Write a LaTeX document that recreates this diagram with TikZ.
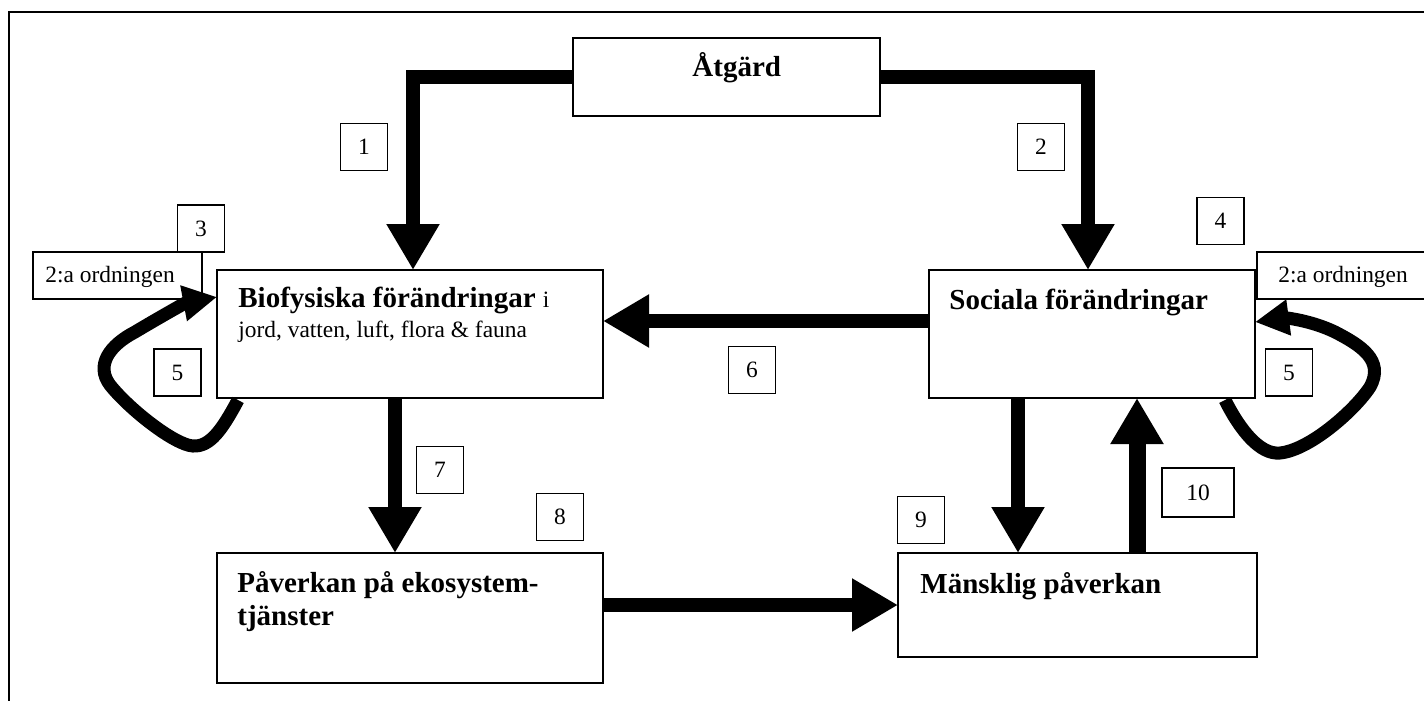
\documentclass[tikz,border=0pt]{standalone}
\usepackage{fontspec}
\setmainfont{Liberation Serif}
\usetikzlibrary{arrows.meta}
\begin{document}
\begin{tikzpicture}[x=0.5pt,y=-0.5pt,
  box/.style={draw, line width=1pt, rectangle, inner sep=0pt, outer sep=0pt},
  numbox/.style={draw, line width=0.75pt, inner sep=0pt, outer sep=0pt, minimum width=23.5pt, minimum height=23.5pt, font=\fontsize{11.7}{14}\selectfont},
  boldtxt/.style={anchor=base west, inner sep=0pt, font=\fontsize{14.5}{17}\selectfont\bfseries},
  regtxt/.style={anchor=base west, inner sep=0pt, font=\fontsize{11.7}{14}\selectfont},
  flow/.style={line width=7pt, line join=miter, -{Triangle[width=25pt,length=23pt]}},
  loopflow/.style={line width=6.5pt, -{Triangle[width=17pt,length=17pt]}}
]
\useasboundingbox (0,0) rectangle (1424,701);
% outer frame
\draw[line width=1pt] (9,701) -- (9,12) -- (1424,12);

% main boxes
\node[box, minimum width=153.5pt, minimum height=39pt] (atg) at (726.5,77) {};
\node[box, minimum width=193pt, minimum height=64pt] (bio) at (410,334) {};
\node[box, minimum width=163pt, minimum height=64pt] (soc) at (1092,334) {};
\node[box, minimum width=193pt, minimum height=65pt] (pav) at (410,618) {};
\node[box, minimum width=179.5pt, minimum height=52pt] (man) at (1077.5,605) {};

% texts
\node[boldtxt] (tatg) at (692,77) {Åtgärd};
\node[boldtxt] (tbio) at (238,307) {Biofysiska förändringar {\mdseries\fontsize{11.7}{14}\selectfont i}};
\node[regtxt] (tbio2) at (238,337) {jord, vatten, luft, flora \& fauna};
\node[boldtxt] (tsoc) at (949,309) {Sociala förändringar};
\node[boldtxt] (tpav) at (237,592) {Påverkan på ekosystem-};
\node[boldtxt] (tpav2) at (237,625) {tjänster};
\node[boldtxt] (tman) at (920,593) {Mänsklig påverkan};

% order boxes
\node[box, line width=0.75pt, minimum width=84.5pt, minimum height=23.5pt] (ordL) at (117.5,275.5) {};
\node[regtxt] (tordL) at (45,282) {2:a ordningen};
\node[box, line width=0.75pt, minimum width=84.5pt, minimum height=23.5pt] (ordR) at (1341.5,275.5) {};
\node[regtxt] (tordR) at (1278,282) {2:a ordningen};

% number boxes
\node[numbox] (n1) at (364,147) {1};
\node[numbox] (n2) at (1041,147) {2};
\node[numbox] (n3) at (201,228.5) {3};
\node[numbox] (n4) at (1220.5,221) {4};
\node[numbox] (n5L) at (177.5,372.5) {5};
\node[numbox] (n5R) at (1289,372.5) {5};
\node[numbox] (n6) at (752,370) {6};
\node[numbox] (n7) at (440,470) {7};
\node[numbox] (n8) at (560,517) {8};
\node[numbox] (n9) at (921,520) {9};
\node[numbox, minimum width=36pt, minimum height=24.5pt] (n10) at (1198,492.5) {10};

% connectors
\draw[flow] (atg.west) -| ([xshift=1.5pt]bio.north);
\draw[flow] (atg.east) -| ([xshift=-2pt]soc.north);
\draw[flow] ([yshift=6.5pt]soc.west) -- ([yshift=6.5pt]bio.east);
\draw[flow] ([xshift=-7.5pt]bio.south) -- ([xshift=-7.5pt]pav.north);
\draw[flow] ([yshift=6.5pt]pav.east) -- (man.west);
\draw[flow] ([xshift=-37pt]soc.south) -- ([xshift=-37pt]soc.south |- man.north);
\draw[flow, line width=8.5pt] ([xshift=29.75pt]man.north) -- ([xshift=29.75pt]man.north |- soc.south);

% feedback loops
\draw[loopflow] ([xshift=10.5pt,yshift=-1pt]bio.south west)
  .. controls (222,430) and (210,447) .. (193,446)
  .. controls (175,445) and (130,410) .. (110,385)
  .. controls (95,365) and (110,345) .. (135,332)
  .. controls (155,320) and (185,303) .. ([yshift=18.5pt]bio.west);
\draw[loopflow] ([xshift=-15pt,yshift=-1pt]soc.south east)
  .. controls (1240,430) and (1260,455) .. (1280,453)
  .. controls (1310,450) and (1355,410) .. (1370,387)
  .. controls (1385,360) and (1360,345) .. (1335,332)
  .. controls (1310,320) and (1285,318) .. ([yshift=6pt]soc.east);
\end{tikzpicture}
\end{document}
